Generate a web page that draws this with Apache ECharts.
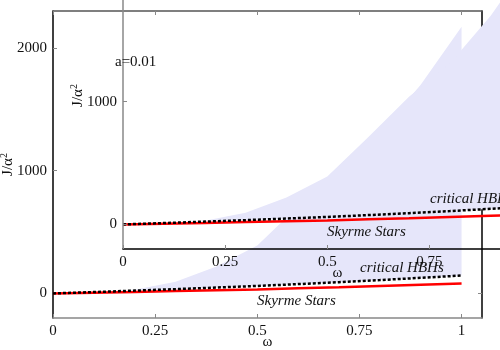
<!DOCTYPE html>
<html>
<head>
<meta charset="utf-8">
<script src="https://cdn.jsdelivr.net/npm/echarts@6/dist/echarts.min.js"></script>
<style>
html, body { margin: 0; padding: 0; background: #fff; }
#chart { width: 500px; height: 350px; }
</style>
</head>
<body>
<div id="chart"></div>
<script>
// values (omega, J/alpha^2)
var omega    = [0, 0.1, 0.2, 0.3, 0.4, 0.5, 0.6, 0.7, 0.8, 0.9, 1.0];
var skyrmeJ  = [0, 6, 12, 19, 26, 33, 42, 51, 61, 71, 81];
var hbhJ     = [0, 11, 23, 35, 48, 61, 76, 92, 109, 127, 146];
var bandTopJ = [0, 12, 30, 95, 220, 390, 710, 1040, 1310, 1700, 2171];
var xTicks = [0, 0.25, 0.5, 0.75, 1];
var yTicks = [0, 1000, 2000];

var serif = 'Liberation Serif';
var lavender = '#e6e6fa';

function pairs(xs, ys) {
    return xs.map(function (x, i) { return [x, ys[i]]; });
}

function xAxis(grid, pos, color, withLabels, z) {
    return {
        type: 'value', gridIndex: grid, position: pos, min: 0, max: 1.05, z: z,
        axisLine: { onZero: false, lineStyle: { color: color, width: 1.5 } },
        axisTick: { inside: true, length: 4, customValues: xTicks, lineStyle: { color: '#888' } },
        axisLabel: withLabels ? { customValues: xTicks, fontFamily: serif, fontSize: 15, color: '#111', margin: 6,
            formatter: function (v) { return String(v); } } : { show: false },
        splitLine: { show: false },
        name: withLabels ? 'ω' : '', nameLocation: 'middle', nameGap: 17, nameMoveOverlap: false,
        nameTextStyle: { fontFamily: serif, fontSize: 15, color: '#111' }
    };
}
function yAxis(grid, pos, color, withLabels, z) {
    return {
        type: 'value', gridIndex: grid, position: pos, min: -200, max: 2300, z: z,
        axisLine: { onZero: false, lineStyle: { color: color, width: 1.5 } },
        axisTick: { inside: true, length: 4, customValues: yTicks, lineStyle: { color: '#888' } },
        axisLabel: withLabels ? { customValues: yTicks, fontFamily: serif, fontSize: 15, color: '#111', margin: 6,
            formatter: function (v) { return String(v); } } : { show: false },
        splitLine: { show: false },
        name: withLabels ? 'J/α{s|2}' : '', nameLocation: 'middle', nameGap: 36, nameMoveOverlap: false,
        nameTextStyle: { fontFamily: serif, fontSize: 15, color: '#111',
            rich: { s: { fontFamily: serif, fontSize: 10, verticalAlign: 'top', padding: [0, 0, 8, 0] } } }
    };
}

// shaded band between the critical HBH curve and the upper boundary
function bandItem(params, api) {
    var pts = [];
    for (var i = 0; i < omega.length; i++) pts.push(api.coord([omega[i], bandTopJ[i]]));
    for (var j = omega.length - 1; j >= 0; j--) pts.push(api.coord([omega[j], hbhJ[j]]));
    var cs = params.coordSys;
    return {
        type: 'polygon', shape: { points: pts }, style: { fill: lavender },
        clipPath: { type: 'rect', shape: { x: cs.x, y: cs.y, width: cs.width, height: cs.height } }
    };
}

function plotSeries(xi, yi, z) {
    return [
        { type: 'custom', xAxisIndex: xi, yAxisIndex: yi, z: z, silent: true,
          renderItem: bandItem, data: [0] },
        { type: 'line', xAxisIndex: xi, yAxisIndex: yi, z: z + 1, silent: true, symbol: 'none',
          lineStyle: { color: '#ff0000', width: 2.5 }, data: pairs(omega, skyrmeJ) },
        { type: 'line', xAxisIndex: xi, yAxisIndex: yi, z: z + 1, silent: true, symbol: 'none',
          lineStyle: { color: '#000', width: 2.5, type: [3, 2] }, data: pairs(omega, hbhJ) }
    ];
}

function label(text, x, y) {
    return { type: 'text', z: 10, style: { text: text, x: x, y: y, verticalAlign: 'middle',
        font: 'italic 15px "Liberation Serif"', fill: '#111' } };
}

var option = {
    animation: false,
    grid: [
        { left: 53, top: 11, width: 429, height: 307, containLabel: false, outerBoundsMode: 'none' },
        { left: 123, top: -58, width: 429, height: 307, containLabel: false, outerBoundsMode: 'none' }
    ],
    xAxis: [
        xAxis(0, 'bottom', '#888', true, 0),
        xAxis(0, 'top', '#555', false, 0),
        xAxis(1, 'bottom', '#000', true, 6)
    ],
    yAxis: [
        yAxis(0, 'left', '#000', true, 0),
        yAxis(0, 'right', '#000', false, 0),
        yAxis(1, 'left', '#888', true, 6)
    ],
    series: plotSeries(0, 0, 2).concat(plotSeries(2, 2, 4)),
    graphic: [
        label('critical HBHs', 360, 268),
        label('Skyrme Stars', 257, 301),
        label('critical HBHs', 430, 199),
        label('Skyrme Stars', 327, 232),
        { type: 'text', z: 10, style: { text: 'a=0.01', x: 115, y: 62, verticalAlign: 'middle',
            font: '15px "Liberation Serif"', fill: '#111' } }
    ]
};

var myChart = echarts.init(document.getElementById('chart'));
myChart.setOption(option);
</script>
</body>
</html>
